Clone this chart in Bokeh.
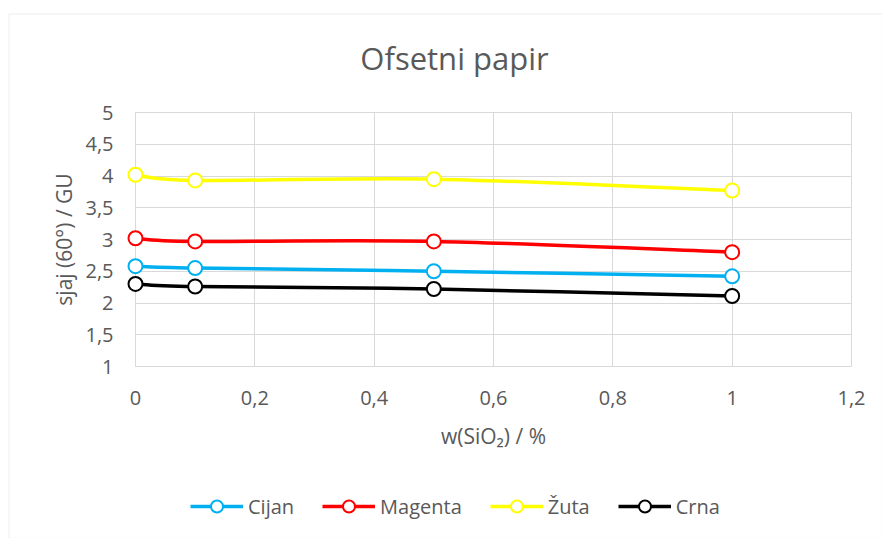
from bokeh.plotting import figure
from bokeh.models import Legend, LegendItem, FixedTicker, Range1d, Label, BoxAnnotation
from bokeh.embed import file_html
from bokeh.resources import INLINE

# ---- data ----
x_vals = [0.0, 0.1, 0.5, 1.0]
cijan = [2.58, 2.55, 2.50, 2.42]
magenta = [3.02, 2.97, 2.97, 2.80]
zuta = [4.02, 3.93, 3.95, 3.77]
crna = [2.30, 2.26, 2.22, 2.11]
series_names = ["Cijan", "Magenta", "Žuta", "Crna"]
series_colors = ["#00B0F0", "#FF0000", "#FFFF00", "#000000"]

x_ticks = [0, 0.2, 0.4, 0.6, 0.8, 1.0, 1.2]
x_tick_labels = ["0", "0,2", "0,4", "0,6", "0,8", "1", "1,2"]
y_ticks = [1, 1.5, 2, 2.5, 3, 3.5, 4, 4.5, 5]
y_tick_labels = ["1", "1,5", "2", "2,5", "3", "3,5", "4", "4,5", "5"]
x_bounds = (0, 1.2)
y_bounds = (1, 5)

title_text = "Ofsetni papir"
x_label = "w(SiO₂) / %"
y_label = "sjaj (60°) / GU"

FONT = "Open Sans"
TEXT_COLOR = "#595959"
GRID_COLOR = "#D9D9D9"

# ---- layout (canvas pixels) ----
W, H = 882, 538
PLOT_L, PLOT_R = 135, 851      # canvas x of x_bounds
PLOT_T, PLOT_B = 112, 366      # canvas y of y_bounds (top, bottom)
kx = (x_bounds[1] - x_bounds[0]) / (PLOT_R - PLOT_L)
ky = (y_bounds[1] - y_bounds[0]) / (PLOT_B - PLOT_T)
x_start = x_bounds[0] - PLOT_L * kx
x_end = x_bounds[1] + (W - PLOT_R) * kx
y_end = y_bounds[1] + PLOT_T * ky
y_start = y_bounds[0] - (H - PLOT_B) * ky


def xd(px):
    return x_start + px * kx


def yd(py):
    return y_end - py * ky


def smooth_segments(xs, ys):
    """Cubic Bezier segments through the points (Catmull-Rom style smoothing)."""
    n = len(xs)
    seg = {k: [] for k in ("x0", "y0", "x1", "y1", "cx0", "cy0", "cx1", "cy1")}
    for i in range(n - 1):
        i0 = max(i - 1, 0)
        i3 = min(i + 2, n - 1)
        seg["x0"].append(xs[i]); seg["y0"].append(ys[i])
        seg["x1"].append(xs[i + 1]); seg["y1"].append(ys[i + 1])
        seg["cx0"].append(xs[i] + (xs[i + 1] - xs[i0]) / 6.0)
        seg["cy0"].append(ys[i] + (ys[i + 1] - ys[i0]) / 6.0)
        seg["cx1"].append(xs[i + 1] - (xs[i3] - xs[i]) / 6.0)
        seg["cy1"].append(ys[i + 1] - (ys[i3] - ys[i]) / 6.0)
    return seg


p = figure(width=W, height=H, output_backend="svg", toolbar_location=None,
           x_range=Range1d(x_start, x_end), y_range=Range1d(y_start, y_end),
           min_border=0)
p.outline_line_color = None
p.background_fill_color = "white"
p.border_fill_color = "white"

# chart border (top and left edges visible in the window)
p.add_layout(BoxAnnotation(left=xd(8.5), top=yd(13.5), fill_color=None,
                           line_color=GRID_COLOR, line_width=1.5, level="underlay"))

# title
p.add_layout(Label(x=xd(454), y=yd(57), text=title_text, text_align="center",
                   text_baseline="middle", text_font=FONT, text_font_size="31px",
                   text_color=TEXT_COLOR))

# axes
p.xaxis.fixed_location = y_bounds[0]
p.yaxis.fixed_location = x_bounds[0]
p.xaxis.bounds = x_bounds
p.yaxis.bounds = y_bounds
p.xaxis.ticker = FixedTicker(ticks=x_ticks)
p.yaxis.ticker = FixedTicker(ticks=y_ticks)
p.xaxis.major_label_overrides = {t: l for t, l in zip(x_ticks, x_tick_labels)}
p.yaxis.major_label_overrides = {t: l for t, l in zip(y_ticks, y_tick_labels)}
for ax in (p.xaxis, p.yaxis):
    ax.axis_line_color = None
    ax.major_tick_line_color = None
    ax.minor_tick_line_color = None
    ax.major_tick_out = 0
    ax.major_tick_in = 0
    ax.major_label_text_font = FONT
    ax.major_label_text_font_size = "20px"
    ax.major_label_text_color = TEXT_COLOR
    ax.axis_label_text_font = FONT
    ax.axis_label_text_font_size = "21px"
    ax.axis_label_text_font_style = "normal"
    ax.axis_label_text_color = TEXT_COLOR
p.xaxis.major_label_standoff = 24
p.yaxis.major_label_standoff = 22
p.xaxis.axis_label = x_label
p.yaxis.axis_label = y_label
p.xaxis.axis_label_standoff = 14
p.yaxis.axis_label_standoff = 4

# grid
p.xgrid.ticker = FixedTicker(ticks=x_ticks)
p.ygrid.ticker = FixedTicker(ticks=y_ticks)
try:
    p.xgrid.bounds = x_bounds
    p.ygrid.bounds = y_bounds
    p.xgrid.cross_bounds = y_bounds
    p.ygrid.cross_bounds = x_bounds
    for g in (p.xgrid, p.ygrid):
        g.grid_line_color = GRID_COLOR
        g.grid_line_width = 1
except AttributeError:
    for g in (p.xgrid, p.ygrid):
        g.grid_line_color = None
    p.segment(x0=x_ticks, y0=[y_bounds[0]] * len(x_ticks), x1=x_ticks,
              y1=[y_bounds[1]] * len(x_ticks), line_color=GRID_COLOR,
              line_width=1, level="underlay")
    p.segment(x0=[x_bounds[0]] * len(y_ticks), y0=y_ticks,
              x1=[x_bounds[1]] * len(y_ticks), y1=y_ticks,
              line_color=GRID_COLOR, line_width=1, level="underlay")

items = []
all_series = [cijan, magenta, zuta, crna]
nan = float("nan")
for name, color, ys in zip(series_names, series_colors, all_series):
    seg = smooth_segments(x_vals, ys)
    p.bezier(x0=seg["x0"], y0=seg["y0"], x1=seg["x1"], y1=seg["y1"],
             cx0=seg["cx0"], cy0=seg["cy0"], cx1=seg["cx1"], cy1=seg["cy1"],
             line_color=color, line_width=3.5)
    sr = p.scatter(x=x_vals, y=ys, marker="circle", size=14, fill_color="white",
                   line_color=color, line_width=2)
    # legend-only line proxy (draws nothing on the plot)
    lr = p.line(x=[nan], y=[nan], line_color=color, line_width=3.5)
    items.append(LegendItem(label=name, renderers=[lr, sr]))

leg = Legend(items=items, location=(190, 17), orientation="horizontal",
             glyph_width=53, glyph_height=30, label_standoff=5, spacing=28,
             padding=0, margin=0, border_line_color=None,
             background_fill_alpha=0, label_text_font=FONT,
             label_text_font_size="20px", label_text_color=TEXT_COLOR)
p.add_layout(leg)

open("out.html", "w").write(file_html(p, INLINE))
